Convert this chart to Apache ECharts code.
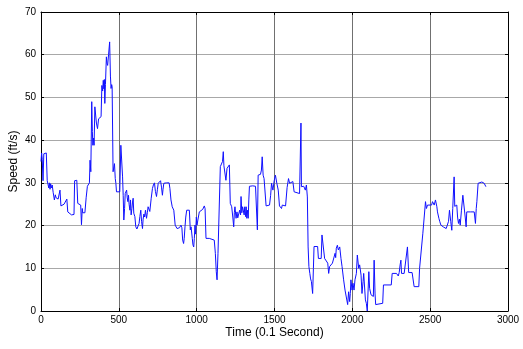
<!DOCTYPE html>
<html>
<head>
<meta charset="utf-8">
<script src="https://cdn.jsdelivr.net/npm/echarts@6/dist/echarts.min.js"></script>
<style>
  html, body { margin: 0; padding: 0; background: #fff; }
  #chart { width: 523px; height: 349px; }
</style>
</head>
<body>
<div id="chart"></div>
<script>
// time stamps (0.1 s) and speed readings (ft/s)
const timeData = [
  0, 4, 8, 13, 18, 24, 34, 40, 46, 50, 54, 58, 62, 66, 72, 78, 86, 92, 97, 104,
  110, 118, 122, 128, 138, 148, 160, 166, 172, 184, 196, 206, 212, 216, 224, 230, 236, 248, 255, 260,
  265, 268, 274, 282, 290, 298, 306, 311, 315, 320, 326, 330, 333, 338, 341, 346, 350, 356, 363, 370,
  380, 386, 391, 396, 400, 404, 407, 410, 414, 420, 424, 428, 434, 441, 446, 450, 454, 457, 463, 468,
  472, 477, 481, 485, 495, 506, 513, 519, 524, 528, 532, 537, 541, 545, 550, 554, 558, 562, 566, 571,
  575, 579, 584, 588, 592, 596, 603, 609, 616, 624, 630, 635, 641, 646, 652, 656, 661, 666, 671, 678,
  683, 688, 694, 699, 708, 716, 722, 729, 735, 742, 748, 753, 760, 768, 774, 780, 784, 789, 800, 806,
  815, 823, 828, 835, 843, 848, 853, 862, 870, 874, 882, 890, 895, 899, 905, 910, 916, 920, 925, 930,
  936, 946, 953, 959, 964, 968, 972, 976, 981, 985, 989, 993, 998, 1002, 1008, 1017, 1028, 1039, 1049, 1054,
  1060, 1071, 1081, 1092, 1113, 1120, 1126, 1131, 1137, 1146, 1152, 1161, 1166, 1171, 1175, 1178, 1182, 1188, 1195, 1203,
  1210, 1216, 1225, 1232, 1238, 1242, 1246, 1253, 1259, 1264, 1268, 1276, 1282, 1285, 1290, 1295, 1299, 1305, 1309, 1314,
  1318, 1322, 1327, 1331, 1335, 1339, 1360, 1378, 1386, 1390, 1395, 1405, 1410, 1416, 1421, 1427, 1433, 1438, 1446, 1453,
  1468, 1475, 1481, 1486, 1490, 1498, 1506, 1515, 1524, 1532, 1540, 1545, 1550, 1560, 1571, 1581, 1590, 1597, 1609, 1618,
  1626, 1635, 1661, 1667, 1670, 1673, 1688, 1698, 1705, 1711, 1716, 1721, 1727, 1732, 1737, 1745, 1750, 1754, 1765, 1777,
  1782, 1794, 1800, 1805, 1816, 1822, 1833, 1842, 1848, 1854, 1863, 1872, 1880, 1889, 1893, 1897, 1904, 1910, 1919, 1927,
  1934, 1944, 1953, 1961, 1970, 1976, 1983, 1987, 1991, 1998, 2004, 2011, 2017, 2026, 2032, 2041, 2047, 2056, 2062, 2069,
  2073, 2084, 2090, 2096, 2103, 2106, 2111, 2120, 2135, 2140, 2146, 2150, 2160, 2195, 2200, 2250, 2256, 2284, 2290, 2295,
  2301, 2307, 2312, 2316, 2327, 2333, 2345, 2354, 2362, 2370, 2384, 2397, 2427, 2432, 2444, 2453, 2461, 2470, 2476, 2483,
  2491, 2509, 2515, 2526, 2534, 2543, 2547, 2556, 2562, 2569, 2584, 2596, 2603, 2611, 2618, 2624, 2632, 2639, 2645, 2654,
  2658, 2663, 2671, 2676, 2682, 2688, 2693, 2701, 2710, 2719, 2725, 2731, 2735, 2760, 2783, 2791, 2796, 2800, 2808, 2817,
  2832, 2847, 2858
];
const speedData = [
  35, 37, 35.5, 30.5, 36.8, 37.2, 37, 30.5, 29.5, 28.8, 30, 28.5, 29.8, 28.8, 29.5, 27.8, 26, 27.2, 26.5, 26.8,
  26.2, 26.5, 28.3, 24.6, 24.8, 25, 25, 26.2, 23.2, 22.8, 22.5, 22.3, 22.6, 30.5, 30.8, 30.6, 25.2, 25, 24.8, 20.2,
  24, 23, 23.4, 23, 26.5, 29.2, 29.5, 30, 35.3, 32.6, 49, 42, 38.8, 40.5, 38.8, 47.8, 47.5, 44, 42.7, 45,
  45.3, 45.5, 52.8, 51.5, 54, 52, 54.2, 48.6, 53, 59.5, 58, 57.5, 60, 63, 55, 52.1, 53, 52.5, 32.6, 32.3,
  34.5, 31, 29.9, 27.9, 27.7, 27.9, 38.8, 38.4, 31.4, 27, 21.3, 24, 27.5, 27.9, 28.3, 26.5, 25.6, 27.1, 25, 23.6,
  26, 22.5, 24, 25.5, 26.4, 22.9, 22.1, 19.7, 19.2, 19, 20.5, 22.1, 23.6, 21, 19.3, 21.5, 22.7, 22, 23.6, 21.7,
  23, 24.4, 24, 23.3, 26.4, 28.7, 29.5, 30, 28, 26.8, 28.5, 29.9, 30.2, 30.5, 29, 27.1, 28.5, 29.9, 29.8, 30,
  29.9, 30, 28.7, 26, 24.4, 24, 23.6, 20.1, 19.7, 19.3, 19.7, 19.5, 19.3, 20.1, 19.5, 16.6, 15.8, 17, 19.7, 22,
  23.6, 24, 23.6, 19, 19.7, 19.7, 17, 15.5, 15, 17, 20.1, 18, 22, 20.1, 20.5, 23.2, 23.6, 23.8, 24.6, 24,
  17, 16.8, 17, 16.6, 16.6, 13.5, 9.2, 7.3, 13.5, 13.5, 33.8, 33.4, 35, 37.3, 34, 33.8, 34.2, 30.6, 33.4, 33.8,
  34.2, 25.2, 24.4, 22, 19.7, 23, 24.4, 21.7, 23.2, 21.8, 21.7, 23.6, 22.5, 26.8, 23, 24.4, 24.6, 22.5, 24.4, 22.1,
  24.4, 21.7, 23.6, 21.7, 26, 29.2, 29.3, 29.2, 29, 19, 31.8, 31.8, 32, 33, 36.1, 31.8, 31, 31, 24.6, 24.8,
  24.8, 27, 29.9, 29, 28.3, 30.5, 31.8, 29.9, 28.3, 24.6, 24.2, 24, 24.8, 24.8, 24.6, 28.9, 31, 29.9, 29.6, 30.3,
  27.9, 27.5, 27.5, 27.9, 44, 29.1, 29.2, 28.3, 29.5, 26.7, 15, 10.4, 8.8, 7.5, 6.9, 4.1, 10, 15.1, 15.1, 15.1,
  12.3, 12.1, 12.3, 17.8, 17.8, 12.3, 12.1, 11.2, 8.8, 10.4, 10, 11.2, 10.8, 13.5, 12.5, 14.7, 15.4, 14.3, 15, 12.3,
  10.4, 7.3, 4.9, 4.5, 1.5, 4.5, 2.2, 4.1, 7.3, 4.9, 6.5, 4.9, 7.3, 8.8, 13.1, 10, 10.8, 8.4, 4.1, 6.9,
  8.8, 2.6, 1.8, 0, 0.3, 9.2, 5.3, 3.8, 3.4, 11.9, 4, 1.5, 1.8, 1.8, 6.1, 6.1, 8.8, 8.8, 8.5, 8.2,
  9, 10.8, 11.9, 8.8, 9, 8.8, 9, 15, 9, 9, 9, 5.7, 5.7, 10, 10, 18.2, 18.5, 25.6, 24, 24.8,
  24.8, 24.8, 25.6, 24.8, 26, 24.4, 23.2, 21.7, 20.9, 20.1, 19.7, 19.7, 19.3, 19.7, 21, 23.6, 21, 18.9, 24, 31.4,
  24.5, 24.4, 24.8, 22, 20.5, 21.5, 20.1, 23.6, 27.1, 26.7, 22, 19.7, 23.2, 23.2, 23.2, 20.5, 24, 25.6, 29.9, 30.2,
  30.2, 29.9, 29.1
];

const xTicks = [0, 500, 1000, 1500, 2000, 2500, 3000];
const yTicks = [0, 10, 20, 30, 40, 50, 60, 70];

const chart = echarts.init(document.getElementById("chart"), null, {renderer: "canvas"});
const points = timeData.map((t, i) => [t, speedData[i]]);
const labelFont = {color: "#000", fontSize: 10, fontFamily: "Liberation Sans, Arial, sans-serif"};

const boxAxis = (extra) => Object.assign({
    axisLine: {show: true, onZero: false, lineStyle: {color: "#000", width: 1}},
    axisTick: {show: true, inside: true, length: 3, lineStyle: {color: "#000"}},
    axisLabel: {show: false},
    splitLine: {show: false}
}, extra);

chart.setOption({
    animation: false,
    backgroundColor: "#fff",
    grid: {left: 41, right: 15, top: 12, bottom: 38, containLabel: false, outerBoundsMode: "none"},
    xAxis: [
        boxAxis({
            type: "value",
            min: xTicks[0],
            max: xTicks[xTicks.length - 1],
            interval: 500,
            position: "bottom",
            name: "Time (0.1 Second)",
            nameLocation: "middle",
            nameMoveOverlap: false,
            nameGap: 16,
            nameTextStyle: {color: "#000", fontSize: 12, fontFamily: "Liberation Sans, Arial, sans-serif"},
            axisLabel: Object.assign({show: true, margin: 4, formatter: (v) => String(v)}, labelFont),
            splitLine: {show: true, lineStyle: {color: "#707070", width: 1}}
        }),
        boxAxis({type: "value", min: 0, max: 3000, interval: 500, position: "top"})
    ],
    yAxis: [
        boxAxis({
            type: "value",
            min: yTicks[0],
            max: yTicks[yTicks.length - 1],
            interval: 10,
            position: "left",
            name: "Speed (ft/s)",
            nameLocation: "middle",
            nameMoveOverlap: false,
            nameGap: 21,
            nameRotate: 90,
            nameTextStyle: {color: "#000", fontSize: 12, fontFamily: "Liberation Sans, Arial, sans-serif"},
            axisLabel: Object.assign({show: true, margin: 5, formatter: (v) => String(v)}, labelFont),
            splitLine: {show: true, lineStyle: {color: "#a8a8a8", width: 1}}
        }),
        boxAxis({type: "value", min: 0, max: 70, interval: 10, position: "right"})
    ],
    series: [
        {
            type: "line",
            xAxisIndex: 0,
            yAxisIndex: 0,
            data: points,
            showSymbol: false,
            lineStyle: {color: "#1010ff", width: 1},
            z: 5
        }
    ]
});
</script>
</body>
</html>
